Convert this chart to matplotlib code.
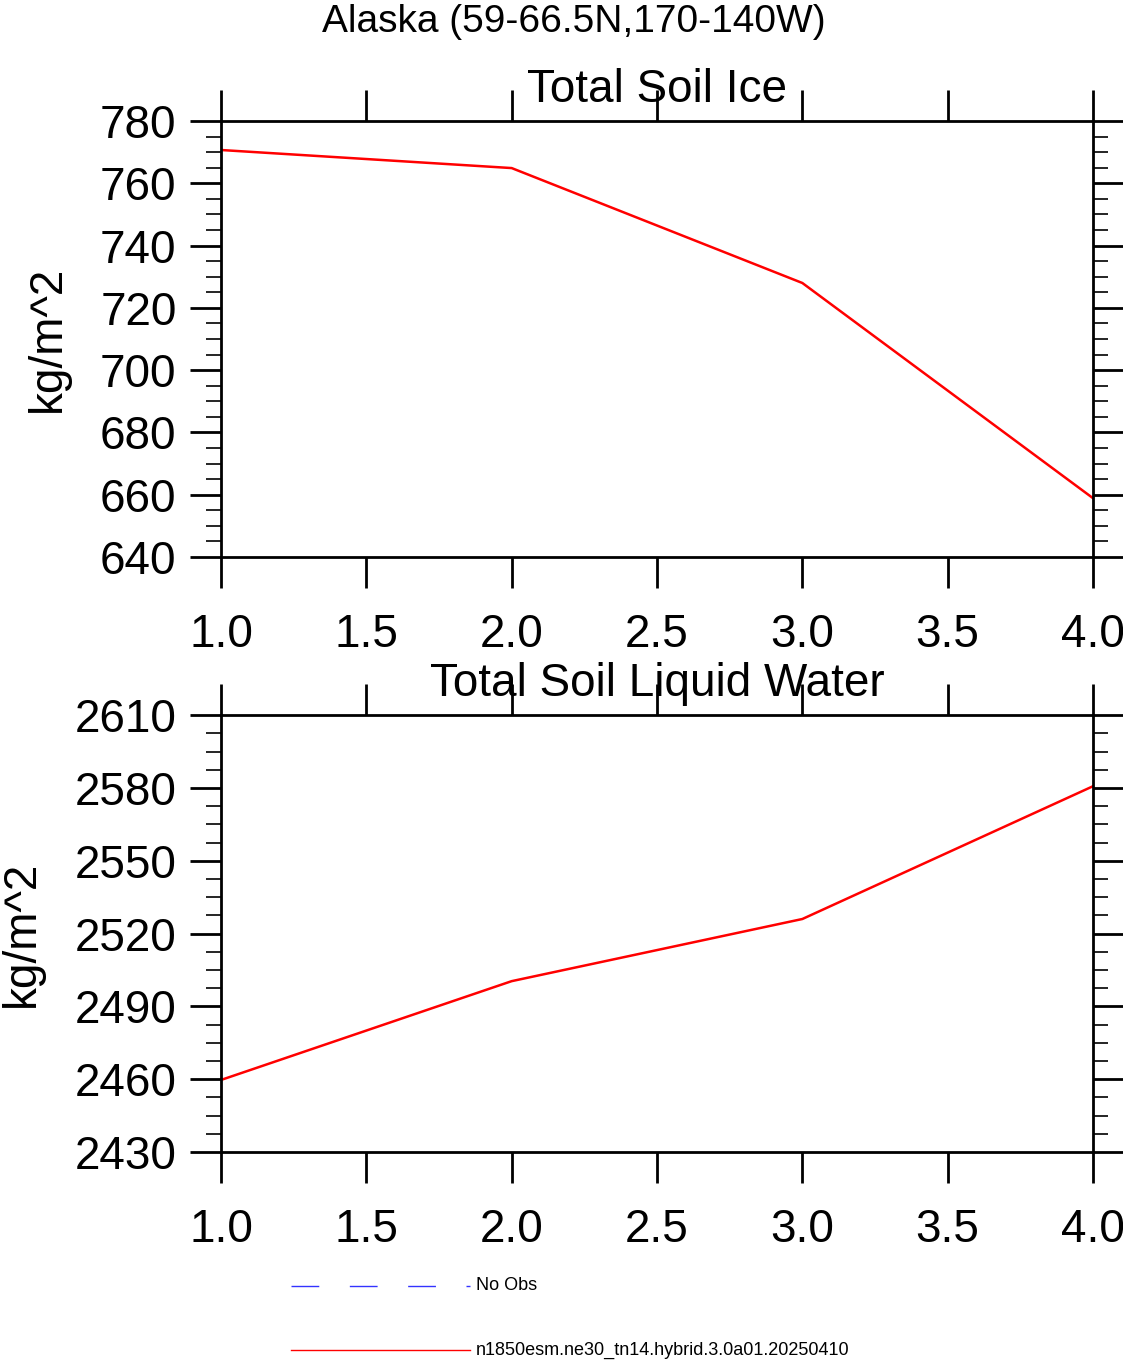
import matplotlib.pyplot as plt
from matplotlib.ticker import MultipleLocator
from matplotlib.lines import Line2D

plt.rcParams['font.family'] = ['Liberation Sans', 'DejaVu Sans']

x = [1.0, 2.0, 3.0, 4.0]
ice = [770.7, 764.9, 728.0, 658.9]
liquid = [2459.7, 2500.4, 2526.0, 2580.7]

fig = plt.figure(figsize=(11.23, 13.6), dpi=100)

def setup(ax, ylim, ymajor, yminor, title):
    ax.set_xlim(1.0, 4.0)
    ax.set_ylim(*ylim)
    ax.xaxis.set_major_locator(MultipleLocator(0.5))
    ax.xaxis.set_minor_locator(MultipleLocator(0.5))
    ax.yaxis.set_major_locator(MultipleLocator(ymajor))
    ax.yaxis.set_minor_locator(MultipleLocator(yminor))
    ax.xaxis.set_major_formatter(plt.FormatStrFormatter('%.1f'))
    ax.tick_params(which='major', direction='out', length=22, width=2,
                   labelsize=33, top=True, right=True, pad=10)
    ax.tick_params(axis='x', which='major', pad=18)
    ax.tick_params(which='minor', direction='out', length=11, width=1.2,
                   top=False, right=True, left=True, bottom=False)
    for s in ax.spines.values():
        s.set_linewidth(2)
    ax.set_ylabel('kg/m^2', fontsize=33, labelpad=22)
    ax.set_title(title, fontsize=33, pad=14)

ax1 = fig.add_axes([0.1968, 0.5904, 0.7765, 0.3206])
ax1.plot(x, ice, color='red', lw=1.8)
setup(ax1, (640, 780), 20, 5, 'Total Soil Ice')

ax2 = fig.add_axes([0.1968, 0.1529, 0.7765, 0.3213])
ax2.plot(x, liquid, color='red', lw=1.8)
setup(ax2, (2430, 2610), 30, 7.5, 'Total Soil Liquid Water')

fig.text(0.511, 0.997, 'Alaska (59-66.5N,170-140W)', ha='center', va='top', fontsize=28)

fig.add_artist(Line2D([291/1123, 470/1123], [1 - 1286/1360] * 2, color='#3333ff',
                      lw=1, dashes=(20, 22)))
fig.text(476/1123, 1 - 1286/1360, 'No Obs', fontsize=13, va='center')
fig.add_artist(Line2D([291/1123, 470/1123], [1 - 1350/1360] * 2, color='red', lw=1))
fig.text(476/1123, 1 - 1350/1360, 'n1850esm.ne30_tn14.hybrid.3.0a01.20250410',
         fontsize=13, va='center')

fig.savefig('out.png', dpi=100)
